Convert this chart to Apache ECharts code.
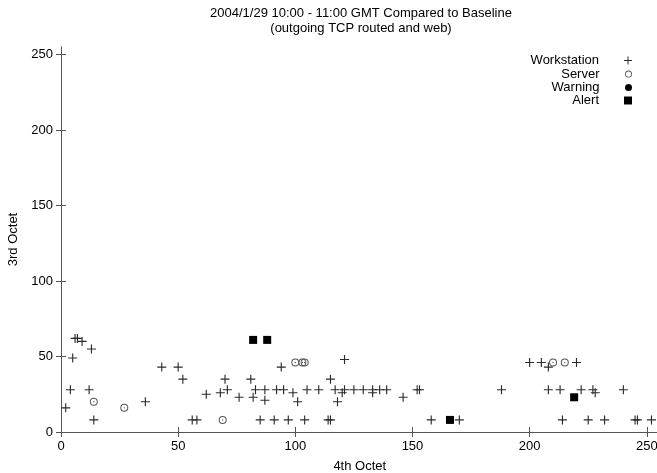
<!DOCTYPE html>
<html>
<head>
<meta charset="utf-8">
<script src="https://cdn.jsdelivr.net/npm/echarts@6/dist/echarts.min.js"></script>
<style>
  html, body { margin: 0; padding: 0; background: #fff; }
  #chart { width: 657px; height: 473px; }
</style>
</head>
<body>
<div id="chart"></div>
<script>
// Host addresses: [4th octet, 3rd octet]
var workstationPoints = [
  [6, 62], [7, 62], [9, 60], [13, 55], [5, 49], [43, 43], [50, 43], [52, 35],
  [4, 28], [12, 28], [2, 16], [36, 20], [14, 8], [56, 8], [58, 8], [62, 25],
  [94, 43], [121, 48], [70, 35], [81, 35], [115, 35], [68, 26], [71, 28], [76, 23],
  [82, 23], [83, 28], [87, 28], [87, 21], [92, 28], [95, 28], [99, 26], [101, 20],
  [105, 28], [110, 28], [117, 28], [118, 20], [85, 8], [91, 8], [97, 8], [104, 8],
  [114, 8], [115, 8], [120, 26], [121, 28], [125, 28], [129, 28], [133, 28], [133, 26],
  [136, 28], [139, 28], [146, 23], [152, 28], [153, 28], [158, 8], [170, 8],
  [200, 46], [205, 46], [208, 43], [220, 46], [188, 28], [208, 28], [213, 28],
  [222, 28], [227, 28], [228, 26], [240, 28], [214, 8], [225, 8], [232, 8],
  [245, 8], [246, 8], [252, 8]
];
var serverPoints = [
  [14, 20], [27, 16], [69, 8], [100, 46], [103, 46], [104, 46], [210, 46], [215, 46]
];
var warningPoints = [];
var alertPoints = [
  [82, 61], [88, 61], [166, 8], [219, 23]
];

var seriesNames = ['Workstation', 'Server', 'Warning', 'Alert'];
var axisTicks = [0, 50, 100, 150, 200, 250];

var titleLines = ['2004/1/29 10:00 - 11:00 GMT Compared to Baseline', '(outgoing TCP routed and web)'];
var xAxisName = '4th Octet';
var yAxisName = '3rd Octet';

var FONT = '"Liberation Sans", Arial, Helvetica, sans-serif';
var INK = '#000';
var FRAME = '#555';

// Symbols
var PLUS = 'path://M3.5,0H4.5V3.5H8V4.5H4.5V8H3.5V4.5H0V3.5H3.5Z';
var RING = 'path://M4,0A4,4 0 1,1 4,8A4,4 0 1,1 4,0Z' +
           'M4,1A3,3 0 1,0 4,7A3,3 0 1,0 4,1Z';
var RING_DOT = RING + 'M4,3.3A0.7,0.7 0 1,1 4,4.7A0.7,0.7 0 1,1 4,3.3Z';
var SQUARE = 'path://M0,0H8V8H0Z';

function frameAxis(extra) {
  var base = {
    type: 'value',
    min: 0,
    max: 255,
    interval: 50,
    axisLine: { show: true, lineStyle: { color: FRAME, width: 1 } },
    axisTick: { show: true, inside: true, length: 5, customValues: axisTicks, lineStyle: { color: FRAME } },
    splitLine: { show: false },
    axisLabel: { show: false }
  };
  for (var k in extra) base[k] = extra[k];
  return base;
}

// One legend block per entry so the markers line up on the right
var legendRows = [
  { name: 'Workstation', icon: PLUS, top: 54, h: 8 },
  { name: 'Server', icon: RING, top: 67.5, h: 7 },
  { name: 'Warning', icon: 'circle', top: 81, h: 7 },
  { name: 'Alert', icon: SQUARE, top: 94, h: 8 }
];
var legends = legendRows.map(function (r) {
  return {
    data: [{ name: r.name, icon: r.icon }],
    orient: 'vertical',
    align: 'right',
    right: 25,
    top: r.top,
    padding: 0,
    itemWidth: 48,
    itemHeight: r.h,
    selectedMode: false,
    textStyle: { fontSize: 13, color: INK, fontFamily: FONT }
  };
});

var option = {
  backgroundColor: '#fff',
  animation: false,
  title: {
    text: titleLines.join('\n'),
    left: 356,
    top: 1,
    textAlign: 'center',
    textStyle: { fontSize: 13, fontWeight: 'normal', color: INK, fontFamily: FONT, lineHeight: 15 }
  },
  legend: legends,
  grid: { left: 61, right: -1.5, top: 47, bottom: 41, containLabel: false, outerBoundsMode: 'none' },
  xAxis: [
    frameAxis({
      position: 'bottom',
      name: xAxisName,
      nameLocation: 'middle',
      nameGap: 28,
      nameTextStyle: { fontSize: 13, color: INK, fontFamily: FONT },
      axisLabel: { show: true, margin: 8, fontSize: 13, color: INK, fontFamily: FONT, customValues: axisTicks }
    }),
    frameAxis({ position: 'top' })
  ],
  yAxis: [
    frameAxis({
      position: 'left',
      name: yAxisName,
      nameLocation: 'middle',
      nameGap: 38,
      nameRotate: 90,
      nameTextStyle: { fontSize: 13, color: INK, fontFamily: FONT },
      axisLabel: { show: true, margin: 8, fontSize: 13, color: INK, fontFamily: FONT, customValues: axisTicks }
    }),
    frameAxis({ position: 'right' })
  ],
  series: [
    {
      name: seriesNames[0], type: 'scatter', data: workstationPoints,
      symbol: PLUS, symbolSize: 9,
      itemStyle: { color: '#2a2a2a', opacity: 1 }
    },
    {
      name: seriesNames[1], type: 'scatter', data: serverPoints,
      symbol: RING_DOT, symbolSize: 8,
      itemStyle: { color: '#555', opacity: 1 }
    },
    {
      name: seriesNames[2], type: 'scatter', data: warningPoints,
      symbol: 'circle', symbolSize: 7,
      itemStyle: { color: '#000', opacity: 1 }
    },
    {
      name: seriesNames[3], type: 'scatter', data: alertPoints,
      symbol: SQUARE, symbolSize: 8,
      itemStyle: { color: '#000', opacity: 1 }
    }
  ]
};

var chart = echarts.init(document.getElementById('chart'), null, { renderer: 'canvas' });
chart.setOption(option);
</script>
</body>
</html>
